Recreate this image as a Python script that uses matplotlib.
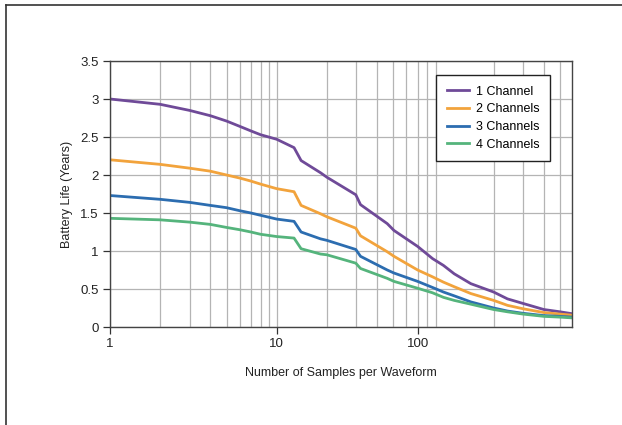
import matplotlib
matplotlib.use("Agg")
import matplotlib.pyplot as plt
from matplotlib.lines import Line2D

plt.rcParams["font.family"] = ["Liberation Sans", "DejaVu Sans"]

# Data
samples = [1, 2, 3, 4, 5, 6, 7, 8, 10, 12.7, 14.0, 18.3, 20, 29.8, 31.8, 46, 50.5,
           70, 86, 100, 116, 146, 200, 242, 300, 400, 500, 590]
one_ch = [3.00, 2.93, 2.85, 2.78, 2.71, 2.64, 2.58, 2.53, 2.47, 2.36, 2.19, 2.03, 1.97,
          1.74, 1.61, 1.36, 1.27, 1.06, 0.90, 0.81, 0.70, 0.57, 0.46, 0.37, 0.31,
          0.23, 0.20, 0.175]
two_ch = [2.20, 2.14, 2.09, 2.05, 2.00, 1.96, 1.92, 1.88, 1.82, 1.78, 1.60, 1.49, 1.45,
          1.30, 1.20, 0.99, 0.93, 0.75, 0.66, 0.59, 0.53, 0.44, 0.35, 0.285, 0.24,
          0.19, 0.17, 0.155]
three_ch = [1.73, 1.68, 1.64, 1.60, 1.57, 1.53, 1.50, 1.47, 1.42, 1.39, 1.25, 1.16, 1.14,
            1.02, 0.93, 0.75, 0.71, 0.60, 0.52, 0.46, 0.41, 0.33, 0.25, 0.21, 0.18,
            0.15, 0.14, 0.13]
four_ch = [1.43, 1.41, 1.38, 1.35, 1.31, 1.28, 1.25, 1.22, 1.19, 1.17, 1.03, 0.96, 0.95,
           0.84, 0.77, 0.64, 0.60, 0.51, 0.45, 0.39, 0.35, 0.30, 0.23, 0.20, 0.17,
           0.14, 0.13, 0.12]

series_labels = ["1 Channel", "2 Channels", "3 Channels", "4 Channels"]
series_colors = ["#6f4a98", "#f2a33c", "#2c6db0", "#55b47c"]

# the reference puts its "100" label on the 70 gridline; kept as drawn
xtick_pos = [1, 10, 70]
xtick_labels = ["1", "10", "100"]
ytick_pos = [0, 0.5, 1, 1.5, 2, 2.5, 3, 3.5]
ytick_labels = ["0", "0.5", "1", "1.5", "2", "2.5", "3", "3.5"]

FS = 9

fig = plt.figure(figsize=(6.22, 4.25), dpi=100)
ax = fig.add_axes([110 / 622, 1 - 327 / 425, 462 / 622, 266 / 425])

for vals, lab, col in zip([one_ch, two_ch, three_ch, four_ch], series_labels, series_colors):
    ax.plot(samples, vals, color=col, linewidth=2, label=lab)

ax.set_xscale("log")
ax.set_xlim(1, 590)
ax.set_ylim(0, 3.5)
ax.grid(True, which="both", color="#b4b4b4", linewidth=0.9)
ax.set_axisbelow(True)

ax.set_xticks(xtick_pos)
ax.set_xticklabels(xtick_labels)
ax.xaxis.set_minor_formatter(plt.NullFormatter())
ax.tick_params(axis="x", which="minor", length=0)
ax.set_yticks(ytick_pos)
ax.set_yticklabels(ytick_labels)
ax.tick_params(axis="both", which="major", direction="out", length=5, width=0.9,
               color="#333333", labelsize=9.5, labelcolor="#222222", pad=3)

for sp in ax.spines.values():
    sp.set_color("#444444")
    sp.set_linewidth(1.0)

ax.set_xlabel("Number of Samples per Waveform", fontsize=FS, color="#222222", labelpad=12)
ax.set_ylabel("Battery Life (Years)", fontsize=FS, color="#222222", labelpad=5)

leg = ax.legend(loc="upper right", bbox_to_anchor=(550 / 622, 1 - 75 / 425),
                bbox_transform=fig.transFigure, borderaxespad=0, fontsize=FS,
                frameon=True, fancybox=False, handlelength=1.75, handletextpad=0.55,
                labelspacing=0.45, borderpad=0.85, framealpha=1)
leg.get_frame().set_edgecolor("#222222")
leg.get_frame().set_linewidth(1.0)

# partial frame around the picture (top and left edges only)
fig.add_artist(Line2D([6 / 622, 1], [1 - 5 / 425, 1 - 5 / 425], color="#333333",
                      linewidth=1.2, transform=fig.transFigure))
fig.add_artist(Line2D([6 / 622, 6 / 622], [0, 1 - 5 / 425], color="#333333",
                      linewidth=1.2, transform=fig.transFigure))

fig.savefig("out.png", dpi=100)
plt.close(fig)
